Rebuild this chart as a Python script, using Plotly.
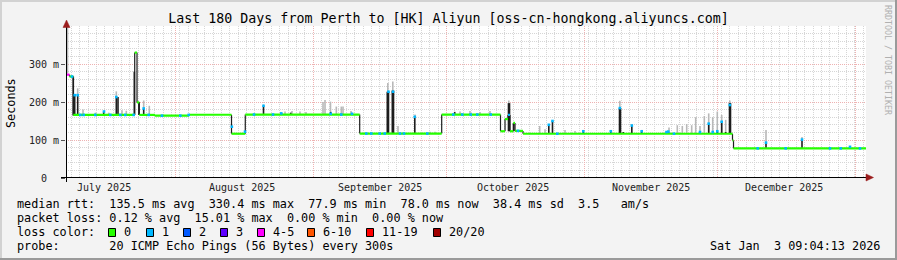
import plotly.graph_objects as go
import pandas as pd

# ---------------- data ----------------
END = pd.Timestamp("2026-01-03 09:04:13")
START = END - pd.Timedelta(days=180)

# median rtt (ms) as level segments; times are days after graph start
seg_bounds = [0.00, 0.79, 1.64, 15.46, 15.98, 16.49, 20.03, 27.68, 37.24, 40.34, 66.08,
              84.53, 97.76, 98.78, 99.45, 99.90, 100.64, 101.03, 102.83, 149.96, 150.19, 180.0]
seg_value = [272, 267, 166, 330, 199, 166, 164, 166.5, 116.5, 167, 117,
             167, 123, 155, 166, 123, 145, 124, 116.5, 99, 77.8]
seg_loss = [4, 0, 0, 0, 0, 0, 0, 0, 0, 0, 0, 0, 0, 0, 1, 0, 0, 0, 0, 0, 0]

# dense smoke (dark columns)
dense_day = [1.64, 1.96, 2.63, 8.48, 11.32, 11.70, 15.37, 16.40, 17.48, 44.44, 48.49, 50.56, 59.56,
             72.29, 72.56, 73.42, 73.69, 78.48, 87.46, 99.56, 99.79, 100.76, 108.63, 109.46,
             116.39, 122.58, 124.54, 124.76, 125.39, 127.31, 129.53, 135.11, 135.56, 142.65,
             144.61, 145.51, 146.54, 147.53, 148.43, 149.29, 149.51, 157.50, 165.60]
dense_lo = [164, 164, 164, 166, 166, 166, 166, 166, 166, 167, 167, 167, 167,
            117, 117, 117, 117, 117, 167, 123, 123, 123, 116.5, 116.5,
            116.5, 116.5, 116.5, 116.5, 116.5, 116.5, 116.5, 116.5, 116.5, 116.5,
            116.5, 116.5, 116.5, 116.5, 116.5, 116.5, 116.5, 78, 78]
dense_hi = [267, 218, 218, 175, 213, 213, 280, 200, 183, 190, 171, 172, 174,
            227, 227, 230, 230, 161, 174, 197, 197, 145, 140, 150,
            123, 124, 184, 184, 121, 140, 125, 122, 121, 122,
            143.5, 121, 123, 150, 121, 197, 197, 95, 101]

# light smoke (grey columns)
smoke_day = [0.34, 2.63, 3.83, 6.64, 9.61, 11.32, 12.60, 13.57, 17.48, 18.74,
             49.28, 50.85, 52.65, 54.00, 57.83, 58.28, 59.51, 60.82, 61.94, 62.33, 64.13,
             72.41, 73.53, 74.70, 78.53, 81.90, 83.03, 88.65, 90.90, 93.15, 95.40, 99.63,
             106.58, 107.78, 112.28, 114.53, 124.61,
             135.68, 137.54, 138.67, 139.66, 140.78, 141.68, 142.65, 143.62, 144.61, 145.51,
             146.54, 147.53, 148.43, 149.36, 157.50, 165.60]
smoke_lo = [275, 218, 166, 166, 166, 213, 166, 166, 183, 166,
            167, 167, 167, 167, 167, 167, 174, 167, 167, 167, 167,
            227, 230, 117, 161, 117, 117, 167, 167, 167, 167, 197,
            116.5, 116.5, 116.5, 116.5, 184,
            116.5, 116.5, 116.5, 116.5, 116.5, 116.5, 116.5, 116.5, 116.5, 116.5,
            116.5, 116.5, 116.5, 116.5, 95, 101]
smoke_hi = [400, 236, 180, 172, 172, 228, 178, 177, 204, 190,
            175, 176, 175, 174, 200, 205, 201, 188, 188, 188, 176,
            250, 254, 137, 167, 122, 122, 175, 176, 174, 176, 204,
            137, 128, 126, 124, 203,
            133, 139, 137, 142, 139, 160, 137, 163, 170, 160,
            175, 166, 153, 204, 126, 108]

# median samples with 1/20 loss
loss1_day = [1.35, 1.96, 2.63, 3.22, 3.98, 6.59, 8.55, 9.97, 11.32, 12.22,
             13.34, 15.23, 17.48, 18.61, 21.60, 25.72, 27.61, 37.31, 40.28,
             42.30, 44.44, 46.58, 48.44, 59.56, 61.94, 64.35,
             67.57, 68.69, 70.58, 71.71, 72.56, 73.58, 75.15, 76.05, 78.48, 81.29,
             87.14, 89.17, 91.06, 92.54, 95.56, 101.70, 108.63, 109.46, 110.54,
             116.39, 122.58, 124.61, 127.31, 129.53, 135.11, 135.52, 136.80,
             142.65, 144.61, 145.51, 146.54, 147.53, 149.36,
             155.63, 157.50, 161.93, 165.60, 171.90, 174.31, 176.40, 178.65]
loss1_val = [267, 218, 218, 166, 166, 166, 175, 166, 213, 166,
             166, 166, 183, 166, 164, 164, 166, 135, 122,
             167, 190, 167, 170, 169, 167, 169,
             117, 117, 117, 117, 227, 227, 117, 117, 161, 117,
             167, 167, 167, 167, 167, 124, 140, 150, 116.5,
             123, 123, 184, 138, 123, 121, 122, 116.5,
             121, 143, 121, 123, 148, 192,
             78, 93, 78, 101, 78, 78, 82, 78]

loss_labels = ["0", "1", "2", "3", "4-5", "6-10", "11-19", "20/20"]
loss_colors = ["#26ff00", "#00b8ff", "#0059ff", "#5e00ff", "#ff00ff", "#ff5500", "#ff0000", "#a00000"]

month_starts = ["2025-08-01", "2025-09-01", "2025-10-01", "2025-11-01", "2025-12-01", "2026-01-01"]
month_label_at = ["2025-07-16", "2025-08-16", "2025-09-16", "2025-10-16", "2025-11-16", "2025-12-16"]
month_labels = ["July 2025", "August 2025", "September 2025", "October 2025",
                "November 2025", "December 2025"]

y_tickvals = [0, 100, 200, 300]
y_ticktext = ["0\u00a0\u00a0", "100 m", "200 m", "300 m"]

title = "Last 180 Days from Perth to [HK] Aliyun [oss-cn-hongkong.aliyuncs.com]"
legend_rtt = "median rtt:  135.5 ms avg  330.4 ms max  77.9 ms min  78.0 ms now  38.4 ms sd  3.5   am/s"
legend_loss = "packet loss: 0.12 % avg  15.01 % max  0.00 % min  0.00 % now"
legend_probe = "probe:       20 ICMP Echo Pings (56 Bytes) every 300s"
stamp = "Sat Jan  3 09:04:13 2026"

# ---------------- helpers ----------------
def t(d):
    return START + pd.Timedelta(days=d)

L, T, W, H = 66, 26, 800, 152
FW, FH = 897, 260
def fx(p):
    return (p - L) / W
def fy(p):
    return (T + H - p) / H

MONO = "DejaVu Sans Mono"

def vbars(days, lo, hi):
    xs, ys = [], []
    for d, a, b in zip(days, lo, hi):
        xs += [t(d), t(d), None]
        ys += [a, b, None]
    return xs, ys

fig = go.Figure()

sx, sy = vbars(smoke_day, smoke_lo, smoke_hi)
fig.add_trace(go.Scatter(x=sx, y=sy, mode="lines", line=dict(color="#b8b8b8", width=1.6),
                         hoverinfo="skip"))
dx, dy = vbars(dense_day, dense_lo, dense_hi)
fig.add_trace(go.Scatter(x=dx, y=dy, mode="lines", line=dict(color="#1e1e1e", width=1.6),
                         hoverinfo="skip"))

# vertical steps of the median
cx, cy = [], []
for i in range(len(seg_value) - 1):
    cx += [t(seg_bounds[i + 1]), t(seg_bounds[i + 1]), None]
    cy += [seg_value[i], seg_value[i + 1], None]
fig.add_trace(go.Scatter(x=cx, y=cy, mode="lines", line=dict(color="#1e1e1e", width=1.2),
                         hoverinfo="skip"))

# level parts of the median, coloured by loss
for li, col in enumerate(loss_colors):
    mx, my = [], []
    for i, v in enumerate(seg_value):
        if seg_loss[i] == li:
            mx += [t(seg_bounds[i]), t(seg_bounds[i + 1]), None]
            my += [v, v, None]
    if mx:
        fig.add_trace(go.Scatter(x=mx, y=my, mode="lines", line=dict(color=col, width=2.2),
                                 hoverinfo="skip"))

fig.add_trace(go.Scatter(x=[t(d) for d in loss1_day], y=loss1_val, mode="markers",
                         marker=dict(symbol="square", size=2.6, color=loss_colors[1],
                                     line=dict(width=0)),
                         hoverinfo="skip"))

GRID_MAJ = "#eeb2b2"
GRID_MIN = "#d6d6d6"

fig.update_layout(
    width=FW, height=FH,
    margin=dict(l=L, r=FW - L - W, t=T, b=FH - T - H, pad=0),
    paper_bgcolor="#f3f3f3", plot_bgcolor="#ffffff",
    showlegend=False,
    title=dict(text=title, x=0.5, xref="container", xanchor="center",
               y=1 - 18.5 / FH, yref="container", yanchor="middle",
               font=dict(family=MONO, size=13.3, color="#000000")),
    xaxis=dict(type="date", range=[START, END], tickmode="array", tickvals=month_starts,
               showticklabels=False, ticks="", showgrid=True, gridcolor=GRID_MAJ,
               griddash="1px,1px", gridwidth=1, zeroline=False, showline=False,
               minor=dict(tickmode="linear", tick0="2025-09-01", dtick=45 * 3600 * 1000,
                          showgrid=True, gridcolor=GRID_MIN, griddash="1px,1px",
                          gridwidth=1, ticks="")),
    yaxis=dict(range=[0, 400], tickmode="array", tickvals=y_tickvals, ticktext=y_ticktext,
               showgrid=True, gridcolor=GRID_MAJ, griddash="1px,1px", gridwidth=1,
               zeroline=False, showline=False, ticks="outside", ticklen=4,
               tickcolor="#555555", tickfont=dict(family=MONO, size=10, color="#222222"),
               minor=dict(tickmode="linear", tick0=0, dtick=20, showgrid=True,
                          gridcolor=GRID_MIN, griddash="1px,1px", gridwidth=1, ticks="")),
)

ann = []
for d, lab in zip(month_label_at, month_labels):
    ann.append(dict(x=d, xref="x", y=fy(187.3), yref="paper", text=lab, showarrow=False,
                    xanchor="center", yanchor="middle",
                    font=dict(family=MONO, size=10, color="#222222")))

ann.append(dict(x=fx(10.5), y=fy(102.5), xref="paper", yref="paper", text="Seconds",
                textangle=-90, showarrow=False, xanchor="center", yanchor="middle",
                font=dict(family=MONO, size=11.8, color="#000000")))
ann.append(dict(x=fx(888), y=fy(60), xref="paper", yref="paper",
                text="RRDTOOL / TOBI OETIKER", textangle=90, showarrow=False,
                xanchor="center", yanchor="middle",
                font=dict(family=MONO, size=8.3, color="#b0b0b0")))

def nb(s):
    return s.replace(" ", "\u00a0")

LEG = dict(family=MONO, size=11.8, color="#000000")
for row_y, txt in [(204.3, legend_rtt), (218.2, legend_loss), (232.2, "loss color:"),
                   (246.2, legend_probe)]:
    ann.append(dict(x=fx(16), y=fy(row_y), xref="paper", yref="paper", text=nb(txt),
                    showarrow=False, xanchor="left", yanchor="middle", borderpad=0, font=LEG))
ann.append(dict(x=fx(880.5), y=fy(246.2), xref="paper", yref="paper", text=nb(stamp),
                showarrow=False, xanchor="right", yanchor="middle", borderpad=0, font=LEG))

box_left = [108, 146, 183, 220, 257, 307, 366, 433]
shapes = []
for bx, lab, col in zip(box_left, loss_labels, loss_colors):
    shapes.append(dict(type="rect", xref="paper", yref="paper", x0=fx(bx + 0.5), x1=fx(bx + 7.5),
                       y0=fy(236.5), y1=fy(228.5), fillcolor=col,
                       line=dict(color="#000000", width=1)))
    ann.append(dict(x=fx(bx + 15), y=fy(232.2), xref="paper", yref="paper", text=lab,
                    showarrow=False, xanchor="left", yanchor="middle", borderpad=0, font=LEG))

# axes with arrows
shapes.append(dict(type="line", xref="paper", yref="paper", x0=fx(61), x1=fx(867),
                   y0=fy(177.5), y1=fy(177.5), line=dict(color="#000000", width=1)))
shapes.append(dict(type="line", xref="paper", yref="paper", x0=fx(66.5), x1=fx(66.5),
                   y0=fy(182), y1=fy(25), line=dict(color="#000000", width=1)))
ARROW = "#9b1c1c"
shapes.append(dict(type="path", xref="paper", yref="paper",
                   path=f"M {fx(873.5)} {fy(177.5)} L {fx(866)} {fy(174)} L {fx(866)} {fy(181)} Z",
                   fillcolor=ARROW, line=dict(color=ARROW, width=0.5)))
shapes.append(dict(type="path", xref="paper", yref="paper",
                   path=f"M {fx(66.5)} {fy(20)} L {fx(63)} {fy(27.5)} L {fx(70)} {fy(27.5)} Z",
                   fillcolor=ARROW, line=dict(color=ARROW, width=0.5)))

# 3-D frame around the picture
LIGHT, DARK = "#d2d2d2", "#9a9a9a"
shapes += [
    dict(type="line", xref="paper", yref="paper", x0=fx(0), x1=fx(FW), y0=fy(1), y1=fy(1),
         line=dict(color=LIGHT, width=2)),
    dict(type="line", xref="paper", yref="paper", x0=fx(1), x1=fx(1), y0=fy(0), y1=fy(FH),
         line=dict(color=LIGHT, width=2)),
    dict(type="line", xref="paper", yref="paper", x0=fx(0), x1=fx(FW), y0=fy(FH - 1), y1=fy(FH - 1),
         line=dict(color=DARK, width=2)),
    dict(type="line", xref="paper", yref="paper", x0=fx(FW - 1), x1=fx(FW - 1), y0=fy(0), y1=fy(FH),
         line=dict(color=DARK, width=2)),
]

fig.update_layout(annotations=ann, shapes=shapes)
fig.write_html("out.html")
